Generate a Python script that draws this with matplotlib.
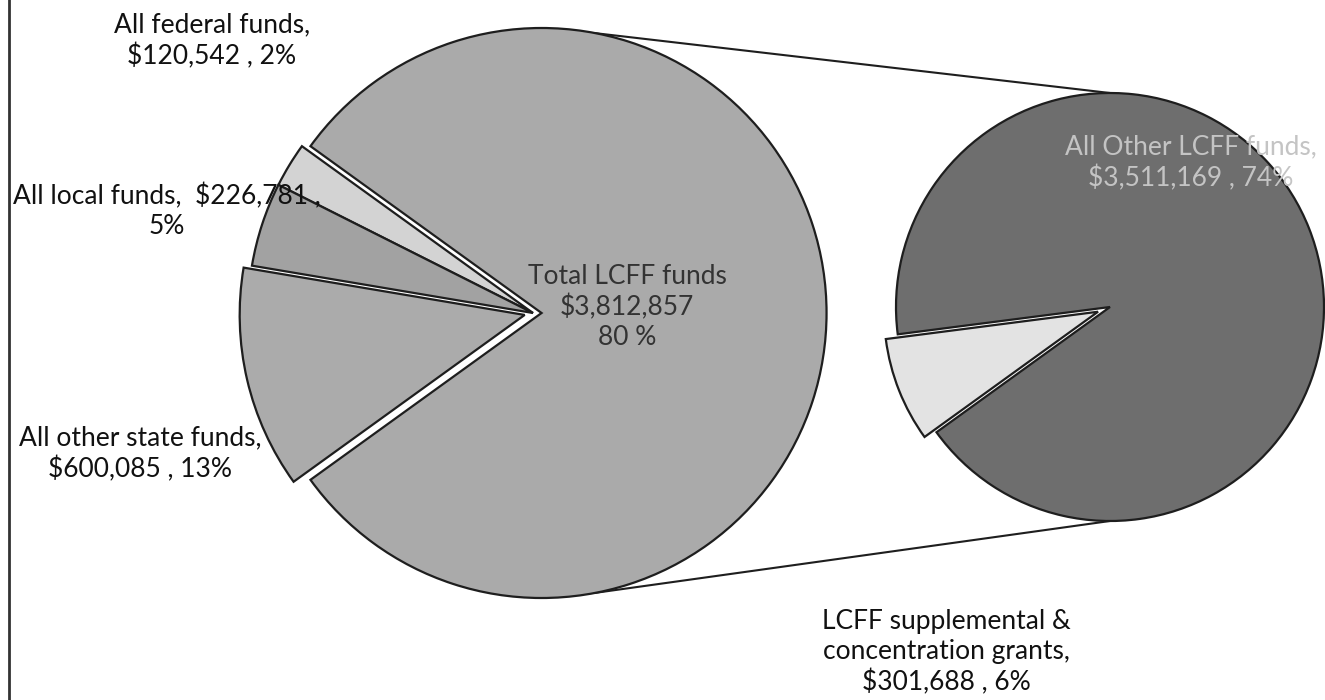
import numpy as np
import matplotlib
matplotlib.use("Agg")
import matplotlib.pyplot as plt

# ---- data ----
main_labels = ["Total LCFF funds", "All federal funds", "All local funds", "All other state funds"]
main_values = [3812857, 120542, 226781, 600085]
main_pct = ["80 %", "2%", "5%", "13%"]

sec_labels = ["All Other LCFF funds", "LCFF supplemental & concentration grants"]
sec_values = [3511169, 301688]
sec_pct = ["74%", "6%"]

# ---- figure ----
W, H = 1325, 700
fig = plt.figure(figsize=(W / 100, H / 100), dpi=100)
ax = fig.add_axes([0, 0, 1, 1])

def Y(y):
    return H - y

FONT = ["Lato", "DejaVu Sans"]
FS = 19

main_center = (533, Y(313))
main_r = 285
main_explode_frac = [0.03, 0, 0, 0.03]
sec_center = (1110, Y(307))
sec_r = 214
sec_explode_frac = [0, 0.06]

start = -180 * main_values[0] / sum(main_values)  # centre the aggregate slice at 0 deg

main_colors = ["#aaaaaa", "#d3d3d3", "#a2a2a2", "#ababab"]
wedges, _ = ax.pie(main_values, startangle=start, counterclock=True,
                   colors=main_colors, radius=main_r, center=main_center,
                   explode=[e * main_r for e in main_explode_frac], frame=True,
                   wedgeprops=dict(edgecolor="#1e1e1e", linewidth=1.6))

sec_colors = ["#6e6e6e", "#e3e3e3"]
w2, _ = ax.pie(sec_values, startangle=start, counterclock=True,
               colors=sec_colors, radius=sec_r, center=sec_center,
               explode=[e * sec_r for e in sec_explode_frac], frame=True,
               wedgeprops=dict(edgecolor="#1e1e1e", linewidth=1.6))

ax.set_xlim(0, W)
ax.set_ylim(0, H)
ax.set_aspect("equal")
ax.axis("off")

# connector lines from the aggregate slice to the secondary pie
cx = main_center[0] + main_explode_frac[0] * main_r
t = np.deg2rad(79)
for s in (1, -1):
    x0 = cx + main_r * np.cos(t)
    y0 = main_center[1] + s * main_r * np.sin(t)
    x1 = sec_center[0]
    y1 = sec_center[1] + s * sec_r
    ax.plot([x0, x1], [y0, y1], color="#1e1e1e", lw=1.5, zorder=0)

# left frame line
ax.plot([9, 9], [0, H], color="#333333", lw=2)

def fmt(v):
    return "${:,}".format(v)

txt = dict(fontfamily=FONT, fontsize=FS, ha="center", va="center", linespacing=1.25)

ax.text(212, Y(41), f"{main_labels[1]},\n{fmt(main_values[1])} , {main_pct[1]}", color="#111111", **txt)
ax.text(167, Y(211), f"{main_labels[2]},  {fmt(main_values[2])} ,\n{main_pct[2]}", color="#111111", zorder=5, **txt)
ax.text(140, Y(454), f"{main_labels[3]},\n{fmt(main_values[3])} , {main_pct[3]}", color="#111111", **txt)
ax.text(627, Y(307), f"{main_labels[0]}\n{fmt(main_values[0])}\n{main_pct[0]}", color="#333333", **txt)
ax.text(1191, Y(163), f"{sec_labels[0]},\n{fmt(sec_values[0])} , {sec_pct[0]}", color="#c4c4c4", **txt)
ax.text(946, Y(652), "LCFF supplemental &\nconcentration grants,\n" + f"{fmt(sec_values[1])} , {sec_pct[1]}",
        color="#111111", **txt)

fig.savefig("out.png", dpi=100)
